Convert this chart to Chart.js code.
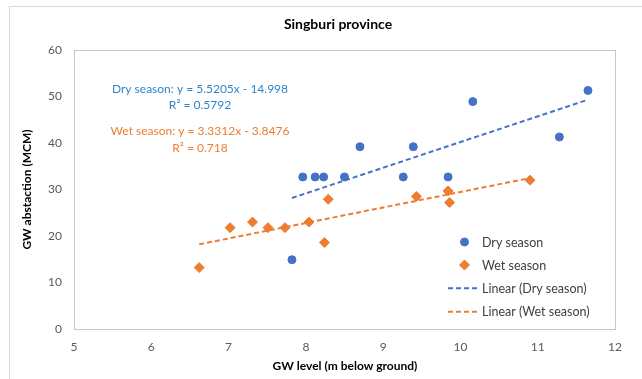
<!DOCTYPE html>
<html>
<head>
<meta charset="utf-8">
<title>Singburi province</title>
<script src="https://cdn.jsdelivr.net/npm/chart.js@4.4.1/dist/chart.umd.min.js"></script>
<style>
  html, body { margin: 0; padding: 0; background: #ffffff; }
  #wrap { width: 642px; height: 379px; position: relative; }
</style>
</head>
<body>
<div id="wrap"><canvas id="c" width="642" height="379"></canvas></div>
<script>
// Groundwater level (m below ground) vs. groundwater abstraction (MCM)
const seriesNames = ['Dry season', 'Wet season'];
const dryLevel       = [7.96, 8.12, 8.23, 8.50, 8.70, 9.26, 9.39, 9.84, 10.16, 11.28, 11.65, 7.82];
const dryAbstraction = [32.7, 32.7, 32.7, 32.7, 39.2, 32.7, 39.2, 32.7, 48.9, 41.3, 51.3, 14.9];
const wetLevel       = [6.62, 7.02, 7.31, 7.51, 7.73, 8.04, 8.24, 8.29, 9.43, 9.84, 9.86, 10.90];
const wetAbstraction = [13.2, 21.8, 23.0, 21.8, 21.8, 23.0, 18.6, 27.9, 28.5, 29.7, 27.2, 32.0];

// Linear trend lines: y = slope * x + intercept
const trendSlope     = [5.5205, 3.3312];
const trendIntercept = [-14.998, -3.8476];
const trendR2        = ['0.5792', '0.718'];

const xTickLabels = [5, 6, 7, 8, 9, 10, 11, 12];
const yTickLabels = [0, 10, 20, 30, 40, 50, 60];

const BLUE = '#4472C4';
const ORANGE = '#ED7D31';
const FONT = 'Lato, "Open Sans", "DejaVu Sans", sans-serif';

function toPoints(xs, ys) {
  return xs.map((x, i) => ({ x: x, y: ys[i] }));
}

function trendPoints(xs, k) {
  const lo = Math.min(...xs), hi = Math.max(...xs);
  return [lo, hi].map(x => ({ x: x, y: trendSlope[k] * x + trendIntercept[k] }));
}

function equationText(k) {
  const b = trendIntercept[k];
  return seriesNames[k] + ': y = ' + trendSlope[k] + 'x ' + (b < 0 ? '- ' : '+ ') + Math.abs(b);
}

const datasets = [
  {
    label: seriesNames[0],
    data: toPoints(dryLevel, dryAbstraction),
    pointStyle: 'circle',
    pointRadius: 4,
    pointBorderWidth: 1,
    backgroundColor: BLUE,
    borderColor: BLUE,
    showLine: false,
    order: 2
  },
  {
    label: seriesNames[1],
    data: toPoints(wetLevel, wetAbstraction),
    pointStyle: 'rectRot',
    pointRadius: 5,
    pointBorderWidth: 1,
    backgroundColor: ORANGE,
    borderColor: ORANGE,
    showLine: false,
    order: 2
  },
  {
    label: 'Linear (' + seriesNames[0] + ')',
    data: trendPoints(dryLevel, 0),
    showLine: true,
    pointRadius: 0,
    borderColor: BLUE,
    backgroundColor: BLUE,
    borderWidth: 2,
    borderDash: [5, 3],
    order: 1
  },
  {
    label: 'Linear (' + seriesNames[1] + ')',
    data: trendPoints(wetLevel, 1),
    showLine: true,
    pointRadius: 0,
    borderColor: ORANGE,
    backgroundColor: ORANGE,
    borderWidth: 2,
    borderDash: [5, 3],
    order: 1
  }
];

// Frame, titles, plot box, regression labels and in-plot legend
const decorations = {
  id: 'decorations',
  beforeDatasetsDraw(chart) {
    const { ctx, chartArea: a } = chart;
    ctx.save();
    // chart frame (top and left edges)
    ctx.strokeStyle = '#D9D9D9';
    ctx.lineWidth = 1;
    ctx.beginPath();
    ctx.moveTo(9.5, 379);
    ctx.lineTo(9.5, 6.5);
    ctx.lineTo(642, 6.5);
    ctx.stroke();
    // plot area box
    ctx.strokeStyle = '#C6C6C6';
    ctx.strokeRect(Math.round(a.left) + 0.5, Math.round(a.top) + 0.5,
                   Math.round(a.right - a.left), Math.round(a.bottom - a.top));
    // titles
    ctx.fillStyle = '#000000';
    ctx.textAlign = 'center';
    ctx.textBaseline = 'middle';
    ctx.font = 'bold 14px ' + FONT;
    ctx.fillText('Singburi province', 338, 24);
    ctx.font = 'bold 12px ' + FONT;
    ctx.fillText('GW level (m below ground)', 345, 366);
    ctx.save();
    ctx.translate(27, 189.5);
    ctx.rotate(-Math.PI / 2);
    ctx.fillText('GW abstaction (MCM)', 0, 0);
    ctx.restore();
    ctx.restore();
  },
  afterDatasetsDraw(chart) {
    const { ctx } = chart;
    ctx.save();
    ctx.textAlign = 'center';
    ctx.textBaseline = 'middle';
    ctx.font = '12px ' + FONT;
    const colors = ['#2F85CC', ORANGE];
    const rows = [[89, 105], [131.5, 148]];
    for (let k = 0; k < 2; k++) {
      ctx.fillStyle = colors[k];
      ctx.fillText(equationText(k), 200, rows[k][0]);
      ctx.fillText('R\u00B2 = ' + trendR2[k], 200, rows[k][1]);
    }
    // legend
    const legendY = [242, 265, 288.3, 311.7];
    ctx.textAlign = 'left';
    ctx.font = '12.5px ' + FONT;
    chart.data.datasets.forEach((ds, i) => {
      const y = legendY[i];
      if (ds.showLine) {
        ctx.save();
        ctx.strokeStyle = ds.borderColor;
        ctx.lineWidth = ds.borderWidth;
        ctx.setLineDash(ds.borderDash);
        ctx.beginPath();
        ctx.moveTo(448, y);
        ctx.lineTo(480, y);
        ctx.stroke();
        ctx.restore();
      } else {
        ctx.save();
        ctx.fillStyle = ds.backgroundColor;
        ctx.strokeStyle = ds.borderColor;
        Chart.helpers.drawPoint(ctx, {
          pointStyle: ds.pointStyle,
          radius: ds.pointRadius,
          borderWidth: ds.pointBorderWidth,
          rotation: 0
        }, 464.5, y);
        ctx.restore();
      }
      ctx.fillStyle = '#404040';
      ctx.fillText(ds.label, 482, y + 0.5);
    });
    ctx.restore();
  }
};

new Chart(document.getElementById('c'), {
  type: 'scatter',
  data: { datasets: datasets },
  options: {
    responsive: false,
    animation: false,
    devicePixelRatio: 1,
    layout: { padding: { left: 0, top: 50, right: 27, bottom: 0 } },
    plugins: {
      legend: { display: false },
      title: { display: false },
      tooltip: { enabled: false }
    },
    scales: {
      x: {
        type: 'linear',
        min: xTickLabels[0],
        max: xTickLabels[xTickLabels.length - 1],
        afterBuildTicks(scale) { scale.ticks = xTickLabels.map(v => ({ value: v })); },
        afterFit(scale) { scale.height = 50; },
        grid: { display: false, drawTicks: false },
        border: { display: false },
        ticks: { padding: 11, color: '#595959', font: { family: FONT, size: 12 } }
      },
      y: {
        type: 'linear',
        min: yTickLabels[0],
        max: yTickLabels[yTickLabels.length - 1],
        afterBuildTicks(scale) { scale.ticks = yTickLabels.map(v => ({ value: v })); },
        afterFit(scale) { scale.width = 74; },
        grid: { display: false, drawTicks: false },
        border: { display: false },
        ticks: { padding: 12, color: '#595959', font: { family: FONT, size: 12 } }
      }
    }
  },
  plugins: [decorations]
});
</script>
</body>
</html>
